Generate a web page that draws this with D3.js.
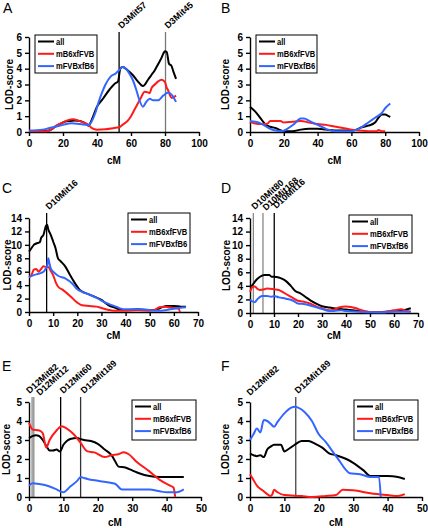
<!DOCTYPE html>
<html><head><meta charset="utf-8">
<script src="https://cdn.jsdelivr.net/npm/d3@7"></script>
<style>
html,body{margin:0;padding:0;background:#fff;}
svg{display:block;font-family:"Liberation Sans",Arial,sans-serif;}
</style></head>
<body><svg id="c" width="428" height="528"></svg>
<script>
// ---- Data (cM, LOD) ----
const seriesNames = ["all", "mB6xfFVB", "mFVBxfB6"];

const aAll = [[0,0.05],[6,0.05],[12,0.1],[15,0.3],[18,0.5],[21,0.65],[24,0.7],[27,0.72],[30,0.7],[33,0.55],[35,0.4],[37,0.8],[40,1.6],[43.5,2.1],[47.5,2.7],[50.4,3.05],[52.4,3.2],[53.7,4.0],[55,4.1],[58,3.9],[61,3.6],[64,3.2],[67,2.9],[70,3.3],[72,3.6],[74,3.9],[76,4.3],[78,4.7],[79,4.95],[80,5.1],[81,5.05],[82.4,4.3],[83.7,4.2],[85,3.8],[86.5,3.35]];
const aB6 = [[0,0.05],[10,0.05],[13,0.15],[16,0.4],[20,0.6],[23,0.75],[26,0.8],[29,0.72],[32,0.6],[35,0.45],[37,0.25],[40,0.15],[45,0.18],[50,0.25],[53,0.3],[55,0.45],[58,0.7],[60,1.0],[62,1.4],[64,1.8],[66,2.2],[68,2.55],[70,2.5],[71,2.45],[72,2.75],[74,3.0],[76,3.2],[78,3.3],[80,3.15],[81,2.8],[82,2.6],[83,2.3],[84,2.15],[85,2.2],[86.5,2.3]];
const aFVB = [[0,0.1],[8,0.15],[12,0.25],[16,0.35],[20,0.45],[25,0.55],[30,0.5],[35,0.45],[37,0.7],[39,1.2],[41,1.9],[43,2.5],[45,3.0],[48,3.5],[51,3.7],[53,3.9],[55,4.1],[57,4.0],[59,3.7],[61,3.3],[63,2.7],[65,2.0],[67,1.6],[69,1.9],[71,2.1],[73,2.0],[76,2.0],[79,2.3],[82,2.5],[84,2.35],[86.5,1.9]];

const bAll = [[0,1.6],[3,1.3],[6,0.9],[10,0.4],[15,0.25],[20,0.05],[25,0.05],[30,0.15],[35,0.2],[40,0.2],[45,0.15],[50,0.1],[55,0.1],[60,0.1],[63,0.15],[66,0.3],[70,0.4],[74,0.6],[76,0.9],[78,1.1],[80,1.1],[82,1.0],[83,0.95]];
const bB6 = [[0,0.65],[5,0.5],[10,0.5],[12,0.7],[15,0.7],[18,0.7],[20,0.6],[25,0.65],[30,0.7],[35,0.6],[40,0.5],[45,0.45],[50,0.35],[55,0.25],[60,0.15],[65,0.1],[70,0.05],[75,0.05],[76,0.12],[78,0.05],[80,0.05]];
const bFVB = [[0,0.7],[5,0.6],[8,0.45],[12,0.2],[15,0.1],[19,0.05],[22,0.2],[26,0.5],[30,0.85],[32,0.85],[35,0.7],[40,0.45],[45,0.2],[50,0.05],[55,0.05],[60,0.05],[62,0.1],[66,0.3],[70,0.6],[74,0.9],[78,1.2],[80,1.5],[83,1.8]];

const cAll = [[0,9.0],[1,9.5],[2,10.0],[3,10.2],[4.5,10.4],[5,11.0],[6,11.5],[7,12.8],[7.5,13.0],[8,12.3],[9,11.5],[10,10.5],[11,9.5],[12,8.0],[13,7.6],[15,6.8],[17,5.5],[19,4.3],[21,3.3],[25,2.6],[30,1.8],[33,1.0],[36,0.6],[38,0.3],[40,0.3],[45,0.4],[50,0.3],[52,0.3],[55,0.7],[57,0.9],[60,0.9],[63,0.8],[65,0.8]];
const cB6 = [[0,5.2],[1,5.5],[2,6.3],[3,6.4],[4,6.0],[5,6.4],[6,6.8],[7,6.7],[8,6.7],[9,6.1],[10,5.5],[11,4.5],[12,3.8],[14,3.3],[17,2.4],[20,1.4],[22,1.0],[25,0.9],[28,0.8],[30,0.6],[33,0.3],[35,0.2],[40,0.2],[45,0.25],[50,0.2],[52,0.3],[54,0.7],[56,0.8],[58,0.7],[60,0.6],[62,0.5],[62.5,0.0]];
const cFVB = [[0,5.2],[2,5.5],[4,5.7],[6,6.0],[7,6.5],[7.5,6.8],[8,8.0],[8.5,7.2],[9,6.5],[10,6.0],[12,5.4],[15,5.0],[18,4.2],[20,3.4],[22,3.0],[25,2.6],[28,2.1],[30,1.7],[33,1.2],[36,0.8],[38,0.5],[40,0.4],[45,0.4],[50,0.3],[52,0.2],[55,0.2],[57,0.3],[60,0.5],[65,0.7]];

const dAll = [[0,3.9],[1,4.1],[2,4.6],[3,5.0],[5,5.5],[6,5.6],[8,5.6],[9,5.35],[11,5.3],[13,5.1],[15,4.7],[17,4.0],[19,3.2],[21,2.9],[23,2.4],[25,1.9],[28,1.3],[30,1.0],[33,0.8],[35,0.7],[40,0.5],[45,0.3],[48,0.2],[50,0.15],[55,0.15],[60,0.3],[65,0.5],[67,0.7]];
const dB6 = [[0,3.1],[1,3.8],[2,3.9],[3,3.6],[4,3.4],[6,3.5],[7,3.6],[10,3.5],[12,3.4],[14,3.0],[16,2.6],[18,2.2],[20,1.8],[22,1.7],[25,1.4],[28,0.9],[30,0.7],[33,0.4],[35,0.5],[37,0.8],[40,0.95],[42,0.9],[45,0.6],[48,0.25],[50,0.15],[55,0.1],[60,0.4],[63,0.55],[65,0.3],[67,0.2]];
const dFVB = [[0,2.0],[1,1.7],[2,1.6],[3,2.0],[5,2.5],[7,2.5],[9,2.4],[10,2.5],[12,2.3],[15,2.1],[18,1.8],[20,1.4],[23,1.3],[25,1.1],[28,0.8],[30,0.6],[33,0.3],[35,0.3],[38,0.4],[40,0.3],[45,0.2],[50,0.1],[55,0.1],[60,0.2],[67,0.2]];

const eAll = [[0,3.1],[1,3.2],[2,3.25],[3,3.2],[4,3.0],[5,2.7],[6,2.45],[7,2.45],[8,2.5],[9,2.4],[10,2.75],[11,2.95],[12,3.05],[14,3.1],[15,3.05],[16,3.0],[18,2.95],[20,2.8],[22,2.5],[24,2.2],[25,1.9],[26,1.6],[28,1.55],[30,1.4],[32,1.25],[35,1.1],[38,1.05],[40,1.05],[42,1.05],[45,1.05]];
const eB6 = [[0,3.9],[0.5,3.7],[1,3.55],[3,3.5],[4,3.35],[5,2.6],[6,3.0],[8,3.5],[9.5,3.72],[11,3.6],[13,3.3],[15,2.85],[17,2.4],[19,2.35],[22,2.1],[24,2.2],[26,2.25],[27.5,2.35],[29,2.25],[31,1.9],[35,1.35],[38,0.9],[41,0.6],[42,0.5],[42.5,0.0]];
const eFVB = [[0,0.6],[1,0.72],[3,0.68],[6,0.55],[8,0.4],[10,0.25],[12,0.55],[14,0.85],[15,1.05],[16,1.0],[17,0.95],[20,0.85],[25,0.7],[27,0.4],[30,0.4],[35,0.4],[38,0.3],[40,0.25],[43,0.25],[45,0.4]];

const fAll = [[0,2.3],[1,2.2],[2,2.15],[3,2.2],[4,2.1],[5,2.5],[6,2.65],[7,2.75],[9,2.75],[10,2.4],[11,2.5],[13,2.75],[15,2.95],[17,2.95],[19,2.8],[21,2.6],[23,2.3],[25,2.2],[28,2.0],[30,1.8],[33,1.4],[35,1.1],[38,1.1],[40,1.1],[43,1.05],[45,0.95]];
const fB6 = [[0,1.2],[1,0.9],[2,0.6],[4,0.3],[5,0.15],[6,0.05],[6.5,0.15],[7,0.38],[8,0.25],[10,0.1],[15,0.05],[18,0.0],[22,0.05],[25,0.1],[27,0.38],[30,0.35],[35,0.2],[40,0.1],[43,0.05],[45,0.15]];
const fFVB = [[0,3.0],[1,3.3],[2,3.6],[3,3.4],[4,4.05],[5,4.0],[6,3.85],[7,3.7],[8,3.95],[10,4.4],[12,4.7],[13,4.75],[14,4.7],[16,4.45],[18,4.0],[20,3.3],[22,2.9],[24,2.4],[26,1.9],[28,1.4],[29,1.25],[32,1.2],[35,1.05],[37.5,1.05],[38,0.0]];

// marker names and positions (cM)
const aMarkerNames = ["D3Mit57","D3Mit45"];
const aMarkerPos = [53,80.3];
const cMarkerNames = ["D10Mit16"];
const cMarkerPos = [7.3];
const dMarkerNames = ["D10Mit80","D10Mit168","D10Mit16"];
const dMarkerPos = [1.4,5.4,10.1];
const eMarkerNames = ["D12Mit82","D12Mit12","D12Mit60","D12Mit189"];
const eMarkerPos = [0.9,1.4,9.2,15.0];
const fMarkerNames = ["D12Mit82","D12Mit189"];
const fMarkerPos = [0,13.3];

const xTicks100 = [0,20,40,60,80,100];
const xTicks70 = [0,10,20,30,40,50,60,70];
const xTicks50 = [0,10,20,30,40,50];
const yTicks6 = [0,1,2,3,4,5,6];
const yTicks14 = [0,2,4,6,8,10,12,14];
const yTicks5 = [0,1,2,3,4,5];

// ---- Styles / layout ----
const seriesColors = ["#000000", "#ff1a1a", "#3366ff"];
const panels = [
  {letter:"A", lx:3, ly:13, x0:29, x1:199, yT:37, yB:132, xMax:100, yMax:6, xt:xTicks100, yt:yTicks6, series:[aAll,aB6,aFVB],
   mNames:aMarkerNames, mPos:aMarkerPos, mCol:["#000","#777"], mDx:[2.5,2.5], mDy:[0,0], leg:[35,35,62,38], cmY:164, lodX:13},
  {letter:"B", lx:221, ly:13, x0:250, x1:419, yT:37, yB:132, xMax:100, yMax:6, xt:xTicks100, yt:yTicks6, series:[bAll,bB6,bFVB],
   mNames:[], mPos:[], mCol:[], mDx:[], mDy:[], leg:[256,35,61,38], cmY:164, lodX:229},
  {letter:"C", lx:2, ly:193, x0:29, x1:198, yT:218, yB:312, xMax:70, yMax:14, xt:xTicks70, yt:yTicks14, series:[cAll,cB6,cFVB],
   mNames:cMarkerNames, mPos:cMarkerPos, mCol:["#000"], mDx:[2.5], mDy:[0], leg:[128,213,62,40], cmY:339, lodX:11},
  {letter:"D", lx:221, ly:193, x0:250, x1:418, yT:218, yB:313, xMax:70, yMax:14, xt:xTicks70, yt:yTicks14, series:[dAll,dB6,dFVB],
   mNames:dMarkerNames, mPos:dMarkerPos, mCol:["#888","#888","#000"], mDx:[1.5,3,2], mDy:[0,1,-1], leg:[349,215,63,38], cmY:339, lodX:230},
  {letter:"E", lx:2, ly:371, x0:29, x1:201, yT:402, yB:497, xMax:50, yMax:5, xt:xTicks50, yt:yTicks5, series:[eAll,eB6,eFVB],
   mNames:eMarkerNames, mPos:eMarkerPos, mCol:["#888","#888","#000","#333"], mDx:[-2.5,6,2.5,3.5], mDy:[0,2,0,0], leg:[132,400,64,40], cmY:526, lodX:10},
  {letter:"F", lx:221, ly:371, x0:250, x1:422, yT:402, yB:497, xMax:50, yMax:5, xt:xTicks50, yt:yTicks5, series:[fAll,fB6,fFVB],
   mNames:fMarkerNames, mPos:fMarkerPos, mCol:["#888","#444"], mDx:[0,2.3], mDy:[2,0], leg:[354,400,64,40], cmY:526, lodX:229}
];

const svg = d3.select("#c");

panels.forEach(p => {
  const g = svg.append("g");
  const x = d3.scaleLinear().domain([0,p.xMax]).range([p.x0,p.x1]);
  const y = d3.scaleLinear().domain([0,p.yMax]).range([p.yB,p.yT]);

  g.append("text").attr("x",p.lx).attr("y",p.ly).attr("font-size",14).text(p.letter);

  // markers
  p.mNames.forEach((name,i) => {
    const mx = x(p.mPos[i]);
    if (p.mPos[i] > 0) {
      g.append("line").attr("x1",mx).attr("x2",mx).attr("y1",p.yB).attr("y2",p.yT-5)
        .attr("stroke",p.mCol[i]).attr("stroke-width",1.3);
    }
    g.append("text").attr("transform",`translate(${mx+p.mDx[i]},${p.yT-8+p.mDy[i]}) rotate(-42)`)
      .attr("font-size",9).attr("font-weight","bold").text(name);
  });

  // axes
  const fmt = d3.format("d");
  const xa = g.append("g").attr("transform",`translate(0,${p.yB})`)
    .call(d3.axisBottom(x).tickValues(p.xt).tickFormat(fmt).tickSize(4).tickPadding(4).tickSizeOuter(0));
  const ya = g.append("g").attr("transform",`translate(${p.x0},0)`)
    .call(d3.axisLeft(y).tickValues(p.yt).tickFormat(fmt).tickSize(4).tickPadding(3).tickSizeOuter(0));
  [xa,ya].forEach(a => {
    a.selectAll("path,line").attr("stroke","#000").attr("stroke-width",1.4);
    a.selectAll("text").attr("font-size",10).attr("font-weight","bold")
      .attr("font-family","'Liberation Sans',Arial,sans-serif").attr("fill","#000");
  });

  g.append("text").attr("x",(p.x0+p.x1)/2).attr("y",p.cmY).attr("text-anchor","middle")
    .attr("font-size",10).attr("font-weight","bold").text("cM");
  g.append("text").attr("transform",`translate(${p.lodX},${(p.yT+p.yB)/2}) rotate(-90)`)
    .attr("text-anchor","middle").attr("font-size",10).attr("font-weight","bold").text("LOD-score");

  // lines
  const line = d3.line().x(d=>x(d[0])).y(d=>y(d[1])).curve(d3.curveMonotoneX);
  p.series.forEach((s,i) => {
    g.append("path").datum(s).attr("d",line).attr("fill","none")
      .attr("stroke",seriesColors[i]).attr("stroke-width",2).attr("stroke-linejoin","round");
  });

  // legend
  const [lx,ly,lw,lh] = p.leg;
  const lg = g.append("g");
  lg.append("rect").attr("x",lx).attr("y",ly).attr("width",lw).attr("height",lh)
    .attr("fill","#fff").attr("stroke","#000").attr("stroke-width",1);
  seriesNames.forEach((n,i) => {
    const yy = ly + 6.5 + i*12.3;
    lg.append("line").attr("x1",lx+3).attr("x2",lx+19).attr("y1",yy).attr("y2",yy)
      .attr("stroke",seriesColors[i]).attr("stroke-width",2);
    const t = lg.append("text").attr("x",lx+21).attr("y",yy+3.2).attr("font-size",9)
      .attr("font-weight","bold").text(n);
    const w = t.node().getComputedTextLength();
    t.attr("textLength", w*0.84).attr("lengthAdjust","spacingAndGlyphs");
  });
});
</script></body></html>
